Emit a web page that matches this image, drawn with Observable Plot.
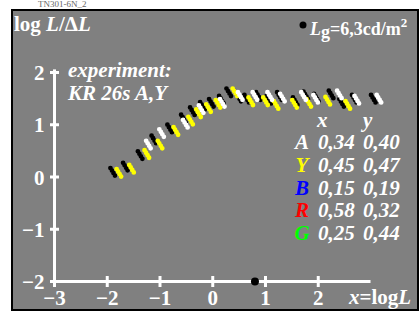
<!DOCTYPE html>
<html>
<head>
<meta charset="utf-8">
<script src="https://cdn.jsdelivr.net/npm/d3@7"></script>
<script src="https://cdn.jsdelivr.net/npm/@observablehq/plot@0.6"></script>
<style>
  html, body { margin: 0; padding: 0; background: #fff; width: 420px; height: 312px; overflow: hidden; }
  #top { position: absolute; left: 38px; top: 0px; font: 9px "Liberation Serif", serif; color: #666; line-height: 9px; }
  #frame { position: absolute; left: 11px; top: 9px; width: 404px; height: 298px; border: 2px solid #000; background: #808080; }
  #frame svg { display: block; overflow: visible; }
</style>
</head>
<body>
<div id="top">TN301-6N_2</div>
<div id="frame"></div>
<script>
// ---- data ----
const xTicks = [-3, -2, -1, 0, 1, 2];
const yTicks = [-2, -1, 0, 1, 2];

// black series
const kX = [-1.84,-1.60,-1.32,-1.06,-0.76,-0.50,-0.33,-0.14,0.03,0.22,0.36,0.55,0.70,0.92,1.12,1.32,1.62,1.82,2.02,2.30,2.50,2.74,3.10];
const kY = [0.10,0.20,0.42,0.72,0.93,1.12,1.26,1.36,1.42,1.48,1.62,1.52,1.50,1.55,1.48,1.55,1.45,1.56,1.52,1.58,1.42,1.50,1.50];
// yellow series (Y)
const yelX = [-1.78,-1.54,-1.25,-1.00,-0.70,-0.42,-0.27,-0.08,0.10,0.42,0.72,1.00,1.20,1.55,1.82,2.18,2.56];
const yelY = [0.08,0.16,0.44,0.62,0.88,1.08,1.22,1.32,1.40,1.62,1.45,1.45,1.38,1.40,1.42,1.46,1.38];
// white series (A)
const whX = [-1.22,-0.97,-0.52,-0.22,0.18,0.52,0.80,1.08,1.32,1.72,1.95,2.40,2.73,3.15];
const whY = [0.62,0.84,1.02,1.30,1.42,1.55,1.55,1.55,1.52,1.55,1.50,1.58,1.48,1.50];

const lgLog = [0.8]; // log10(6.3)

const legKeys = ["A", "Y", "B", "R", "G"];
const legColors = ["#ffffff", "#ffff00", "#0000ff", "#ff0000", "#00ff00"];
const legX = ["0,34", "0,45", "0,15", "0,58", "0,25"];
const legY = ["0,40", "0,47", "0,19", "0,32", "0,44"];

const FONT = '"Liberation Serif", "DejaVu Serif", serif';
const toPts = (xs, ys) => xs.map((x, i) => ({x, y: ys[i]}));
const fmt = d => d < 0 ? "\u2212" + Math.abs(d) : String(d);

// custom symbols
const diag = {draw(ctx) {
  for (const t of [-1.5, -0.5, 0.5, 1.5]) {
    const cx = t * 1.5, cy = t * 2.5;
    ctx.moveTo(cx + 2.4, cy);
    ctx.arc(cx, cy, 2.4, 0, 2 * Math.PI);
  }
}};
const hbar = {draw(ctx) { ctx.rect(-4.5, -1.5, 9, 3); }};
const vbar = {draw(ctx) { ctx.rect(-1.5, -5.5, 3, 11); }};

const txt = {fontFamily: FONT, fontWeight: "bold", fill: "white", fontSize: 21};

const svg = Plot.plot({
  width: 404, height: 298,
  marginLeft: 41, marginRight: 46.5, marginTop: 61, marginBottom: 28,
  x: {domain: [-3, 3], axis: null},
  y: {domain: [-2, 2], axis: null},
  style: {background: "transparent", overflow: "visible"},
  marks: [
    Plot.ruleX([-3], {y1: -2, y2: 2.05, stroke: "white", strokeWidth: 3}),
    Plot.ruleY([-2], {x1: -3, x2: 3, stroke: "white", strokeWidth: 3}),
    Plot.dot(yTicks, {x: () => -3, y: d => d, symbol: hbar, fill: "white", stroke: "none"}),
    Plot.dot(xTicks, {x: d => d, y: () => -2, symbol: vbar, fill: "white", stroke: "none"}),
    Plot.text(yTicks, {x: () => -3, y: d => d, text: fmt, textAnchor: "end", dx: -10, dy: 1, ...txt}),
    Plot.text(xTicks, {x: d => d, y: () => -2, text: fmt, dy: 17, ...txt}),
    Plot.dot(toPts(kX, kY), {x: "x", y: "y", symbol: diag, fill: "black", stroke: "none", dx: -3}),
    Plot.dot(toPts(yelX, yelY), {x: "x", y: "y", symbol: diag, fill: "#ffff00", stroke: "none"}),
    Plot.dot(toPts(whX, whY), {x: "x", y: "y", symbol: diag, fill: "white", stroke: "none"}),
    Plot.dot(lgLog, {x: d => d, y: () => -2, r: 4, fill: "black", stroke: "none"})
  ]
});
document.getElementById("frame").appendChild(svg);

// annotations
const s = d3.select(svg);
function rich(x, y, parts, size, anchor) {
  const t = s.append("text").attr("x", x).attr("y", y)
    .attr("font-family", FONT).attr("font-weight", "bold").attr("font-size", size)
    .attr("fill", "white").attr("text-anchor", anchor || "start");
  parts.forEach(p => {
    const ts = t.append("tspan").text(p.t);
    if (p.i) ts.attr("font-style", "italic");
    if (p.dy) ts.attr("dy", p.dy);
    if (p.fs) ts.attr("font-size", p.fs);
    if (p.fill) ts.attr("fill", p.fill);
  });
  return t;
}
rich(1, 20, [{t: "log "}, {t: "L", i: 1}, {t: "/\u0394"}, {t: "L", i: 1}], 21);
s.append("circle").attr("cx", 290).attr("cy", 14).attr("r", 3.5).attr("fill", "black");
rich(297, 24, [{t: "L", i: 1}, {t: "g", dy: 3}, {t: "=6,3cd/m", dy: -3}, {t: "2", dy: -8, fs: 13}], 18);
rich(55, 66, [{t: "experiment:", i: 1}], 21);
rich(55, 89, [{t: "KR 26s A,Y", i: 1}], 21);
rich(336, 293, [{t: "x", i: 1}, {t: "=log"}, {t: "L", i: 1}], 21);
rich(304, 116, [{t: "x", i: 1}], 21);
rich(350, 116, [{t: "y", i: 1}], 21);
legKeys.forEach((k, i) => {
  const yb = 138 + 22.75 * i;
  rich(289, yb, [{t: k, i: 1, fill: legColors[i]}], 21, "middle");
  rich(305, yb, [{t: legX[i], i: 1}], 21);
  rich(350, yb, [{t: legY[i], i: 1}], 21);
});
</script>
</body>
</html>
